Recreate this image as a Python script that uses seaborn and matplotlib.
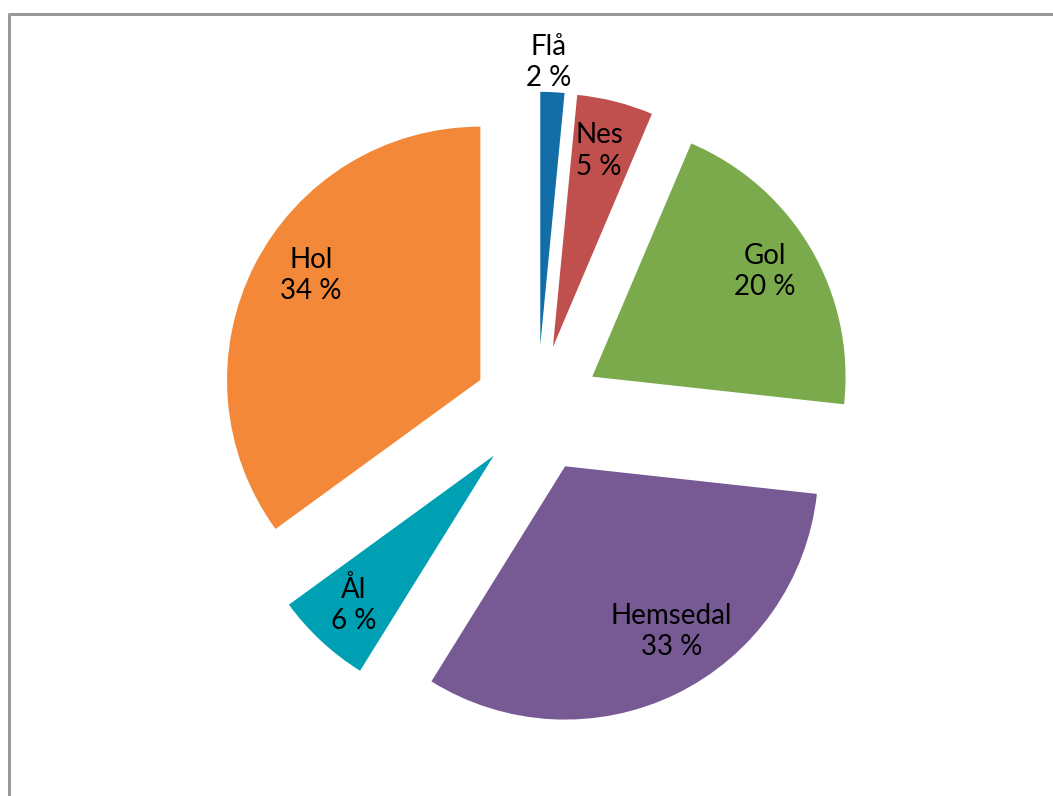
import numpy as np
import matplotlib.pyplot as plt
import seaborn as sns

# slice sizes as drawn (%), and the percentages printed in the labels
kommuner = ["Flå", "Nes", "Gol", "Hemsedal", "Ål", "Hol"]
andel = [1.53, 4.86, 20.35, 32.11, 6.14, 35.01]
etikett_pct = [2, 5, 20, 33, 6, 34]
farger = ["#136EA8", "#C0504D", "#7AAA4B", "#775A94", "#00A0B4", "#F38838"]

# label placement (fraction of radius, angle tweak in degrees)
label_r = [1.115, 0.795, 0.797, 0.777, 0.809, 0.786]
label_dtheta = [1.1, 1.0, 0.9, 6.8, -0.3, -4.7]

sns.set_theme(style="white")
plt.rcParams["font.family"] = ["Lato", "DejaVu Sans"]

fig = plt.figure(figsize=(10.53, 7.96), dpi=100)
ax = fig.add_axes([0, 0, 1, 1])

radius = 253.3
# explode in pie is in data units (not scaled by radius)
wedges, _ = ax.pie(andel, colors=sns.color_palette(farger), startangle=90,
                   counterclock=False, explode=[63.8] * len(andel),
                   radius=radius, center=(537.2, 387.1),
                   wedgeprops=dict(linewidth=0))

ax.set_xlim(0, 1053)
ax.set_ylim(0, 796)
ax.set_aspect("equal")
ax.axis("off")

for w, navn, pct, r, dt in zip(wedges, kommuner, etikett_pct, label_r, label_dtheta):
    mid = np.deg2rad((w.theta1 + w.theta2) / 2 + dt)
    cx, cy = w.center
    x = cx + r * radius * np.cos(mid)
    y = cy + r * radius * np.sin(mid)
    ax.text(x, y, f"{navn}\n{pct} %", ha="center", va="center",
            fontsize=20, color="black", linespacing=1.25)

# chart area border (partly cropped)
ax.plot([8.5, 8.5, 1053], [0, 782.5, 782.5], color="#999999", lw=2.2, clip_on=False)

fig.savefig("out.png", dpi=100)
